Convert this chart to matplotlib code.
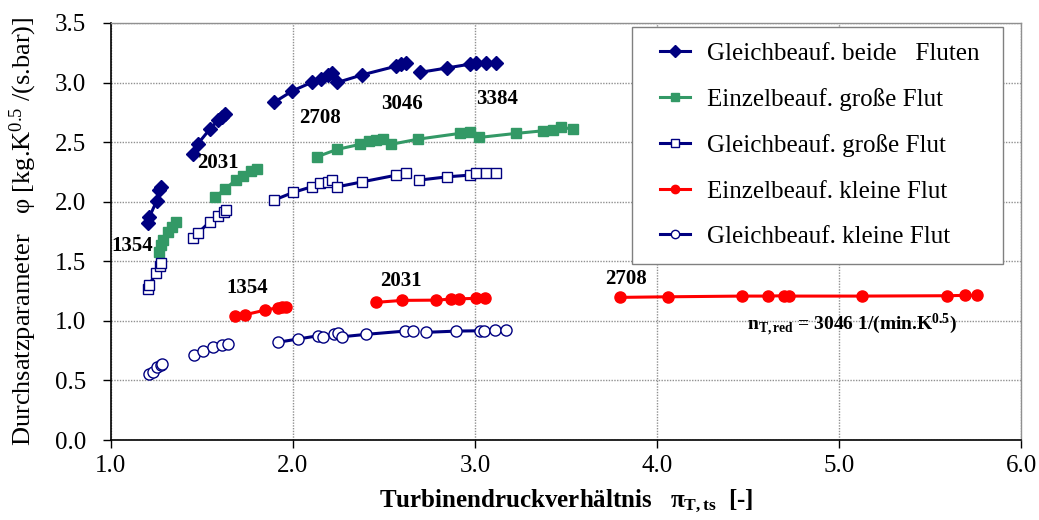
import matplotlib
matplotlib.use("Agg")
import numpy as np
import matplotlib.pyplot as plt
from matplotlib.ticker import FormatStrFormatter
from matplotlib.legend_handler import HandlerLine2D

SERIF = ["Liberation Serif", "DejaVu Serif"]
plt.rcParams["font.family"] = SERIF
plt.rcParams["mathtext.fontset"] = "custom"
plt.rcParams["mathtext.rm"] = "Liberation Serif"
plt.rcParams["mathtext.it"] = "Liberation Serif:italic"
plt.rcParams["mathtext.bf"] = "Liberation Serif:bold"

NAVY = "#000080"
GREEN = "#339966"
RED = "#FF0000"

# Gleichbeauf. beide Fluten (one list per speed line)
beide_x = [
    [1.201, 1.210, 1.251, 1.265, 1.274],
    [1.448, 1.476, 1.543, 1.589, 1.608, 1.626],
    [1.895, 1.997, 2.102, 2.153, 2.193, 2.215],
    [2.244, 2.381, 2.568, 2.595, 2.623],
    [2.696, 2.848, 2.970, 3.007, 3.062, 3.117],
]
beide_y = [
    [1.818, 1.868, 2.007, 2.097, 2.120],
    [2.399, 2.483, 2.609, 2.685, 2.707, 2.735],
    [2.833, 2.930, 3.001, 3.029, 3.062, 3.081],
    [3.001, 3.065, 3.138, 3.152, 3.160],
    [3.085, 3.123, 3.154, 3.160, 3.160, 3.165],
]

# Einzelbeauf. grosse Flut
ez_gross_x = [
    [1.265, 1.274, 1.285, 1.315, 1.334, 1.357],
    [1.571, 1.626, 1.686, 1.726, 1.772, 1.800],
    [2.132, 2.242, 2.367, 2.418, 2.458, 2.494, 2.537, 2.687, 2.915, 2.970,
     3.021, 3.223, 3.373, 3.428, 3.474, 3.537],
]
ez_gross_y = [
    [1.580, 1.636, 1.680, 1.748, 1.790, 1.826],
    [2.036, 2.106, 2.181, 2.217, 2.259, 2.276],
    [2.377, 2.439, 2.481, 2.508, 2.517, 2.525, 2.481, 2.525, 2.573, 2.581,
     2.539, 2.573, 2.595, 2.601, 2.628, 2.607],
]

# Gleichbeauf. grosse Flut
gl_gross_x = [
    [1.205, 1.209, 1.247, 1.269, 1.274],
    [1.448, 1.479, 1.543, 1.589, 1.620, 1.631],
    [1.895, 2.001, 2.102, 2.151, 2.193, 2.215],
    [2.244, 2.381, 2.568, 2.619],
    [2.692, 2.848, 2.970, 3.007, 3.062, 3.113],
]
gl_gross_y = [
    [1.267, 1.300, 1.398, 1.462, 1.487],
    [1.692, 1.739, 1.831, 1.879, 1.915, 1.930],
    [2.013, 2.078, 2.125, 2.154, 2.167, 2.181],
    [2.125, 2.167, 2.223, 2.243],
    [2.181, 2.209, 2.223, 2.237, 2.237, 2.243],
]

# Einzelbeauf. kleine Flut
ez_klein_x = [
    [1.681, 1.735, 1.849, 1.915, 1.942, 1.964],
    [2.454, 2.601, 2.788, 2.870, 2.912, 3.007, 3.053],
    [3.794, 4.059, 4.465, 4.608, 4.699, 4.723, 5.129, 5.592, 5.691, 5.757],
]
ez_klein_y = [
    [1.040, 1.051, 1.091, 1.110, 1.113, 1.116],
    [1.155, 1.172, 1.174, 1.183, 1.185, 1.189, 1.191],
    [1.197, 1.202, 1.208, 1.208, 1.211, 1.208, 1.208, 1.211, 1.214, 1.214],
]

# Gleichbeauf. kleine Flut
gl_klein_x = [
    [1.210, 1.229, 1.251, 1.274, 1.282],
    [1.457, 1.503, 1.561, 1.608, 1.644],
    [1.915, 2.025, 2.138, 2.165, 2.226, 2.248],
    [2.272, 2.403, 2.614, 2.659],
    [2.733, 2.897, 3.025, 3.047, 3.108, 3.168],
]
gl_klein_y = [
    [0.551, 0.573, 0.610, 0.629, 0.638],
    [0.713, 0.747, 0.778, 0.794, 0.808],
    [0.820, 0.847, 0.875, 0.867, 0.889, 0.895],
    [0.867, 0.887, 0.914, 0.917],
    [0.904, 0.914, 0.917, 0.917, 0.920, 0.920],
]

speed_labels = ["1354", "2031", "2708", "3046", "3384",
                "1354", "2031", "2708"]
speed_label_x = [1.119, 1.585, 2.147, 2.597, 3.124, 1.746, 2.595, 3.827]
speed_label_y = [1.628, 2.326, 2.699, 2.816, 2.861, 1.273, 1.336, 1.351]

series = [
    ("Gleichbeauf. beide   Fluten", beide_x, beide_y,
     dict(color=NAVY, marker="D", markersize=7.5, mfc=NAVY, mec=NAVY)),
    ("Einzelbeauf. große Flut", ez_gross_x, ez_gross_y,
     dict(color=GREEN, marker="s", markersize=7.5, mfc=GREEN, mec=GREEN)),
    ("Gleichbeauf. große Flut", gl_gross_x, gl_gross_y,
     dict(color=NAVY, marker="s", markersize=7.5, mfc="white", mec=NAVY, mew=1.0)),
    ("Einzelbeauf. kleine Flut", ez_klein_x, ez_klein_y,
     dict(color=RED, marker="o", markersize=8, mfc=RED, mec=RED)),
    ("Gleichbeauf. kleine Flut", gl_klein_x, gl_klein_y,
     dict(color=NAVY, marker="o", markersize=8, mfc="white", mec=NAVY, mew=1.0)),
]


class ShortHandle(HandlerLine2D):
    """Legend line drawn on the right part of the handle box only."""

    def create_artists(self, legend, orig_handle, xdescent, ydescent,
                       width, height, fontsize, trans):
        artists = super().create_artists(legend, orig_handle, xdescent,
                                          ydescent, width, height,
                                          fontsize, trans)
        for a in artists:
            x = np.asarray(a.get_xdata(), dtype=float)
            a.set_xdata(width * 0.3 + x * 0.7)
        return artists


fig = plt.figure(figsize=(10.39, 5.20), dpi=100)
ax = fig.add_axes([0.1068, 0.1538, 0.8759, 0.8020])

handles = []
for name, xs, ys, style in series:
    for sx, sy in zip(xs, ys):
        ax.plot(sx, sy, linewidth=2.2, zorder=3, **style)
    legend_style = dict(style)
    legend_style["markersize"] = 6
    h, = ax.plot([], [], linewidth=2.2, label=name, **legend_style)
    handles.append(h)

for txt, tx, ty in zip(speed_labels, speed_label_x, speed_label_y):
    ax.text(tx, ty, txt, ha="center", va="center", fontsize=15,
            fontweight="bold", zorder=4)

ax.text(5.072, 0.965, r"n$_{\mathbf{T,red}}$ = 3046 1/(min.K$^{\mathbf{0.5}}$)",
        ha="center", va="center", fontsize=14, fontweight="bold", zorder=4)

ax.set_xlim(1.0, 6.0)
ax.set_ylim(0.0, 3.5)
ax.set_xticks([1.0, 2.0, 3.0, 4.0, 5.0, 6.0])
ax.set_yticks([0.0, 0.5, 1.0, 1.5, 2.0, 2.5, 3.0, 3.5])
ax.xaxis.set_major_formatter(FormatStrFormatter("%.1f"))
ax.yaxis.set_major_formatter(FormatStrFormatter("%.1f"))
ax.tick_params(axis="both", labelsize=18, direction="out", length=6,
               width=1.0, color="black", labelfontfamily="Liberation Serif")
ax.tick_params(axis="x", pad=5)
ax.tick_params(axis="y", pad=12)
ax.grid(True, color="#909090", linestyle=(0, (1, 1)), linewidth=1.0)
ax.set_axisbelow(True)

for side in ["top", "right"]:
    ax.spines[side].set_color("#909090")
    ax.spines[side].set_linewidth(1.0)
for side in ["left", "bottom"]:
    ax.spines[side].set_color("black")
    ax.spines[side].set_linewidth(1.2)

ax.set_xlabel(r"Turbinendruckverhältnis   $\mathbf{\pi}_{\mathbf{T,ts}}$  [-]",
              fontsize=18, fontweight="bold", labelpad=8)
ax.set_ylabel(r"Durchsatzparameter   φ [kg.K$^{\mathrm{0.5}}$ /(s.bar)]",
              fontsize=19, labelpad=11)

# legend box spans a fixed width; the single column stays left-aligned
leg = ax.legend(handles=handles, loc="upper left",
                bbox_to_anchor=(0.5725, 0.0, 0.4077, 0.990), mode="expand",
                fontsize=18, frameon=True, fancybox=False,
                edgecolor="#808080", framealpha=1.0, labelspacing=0.92,
                handlelength=1.7, handletextpad=0.7, borderpad=0.62,
                borderaxespad=0.0,
                handler_map={matplotlib.lines.Line2D: ShortHandle()})
leg.get_frame().set_linewidth(1.0)

fig.savefig("out.png", dpi=100)
